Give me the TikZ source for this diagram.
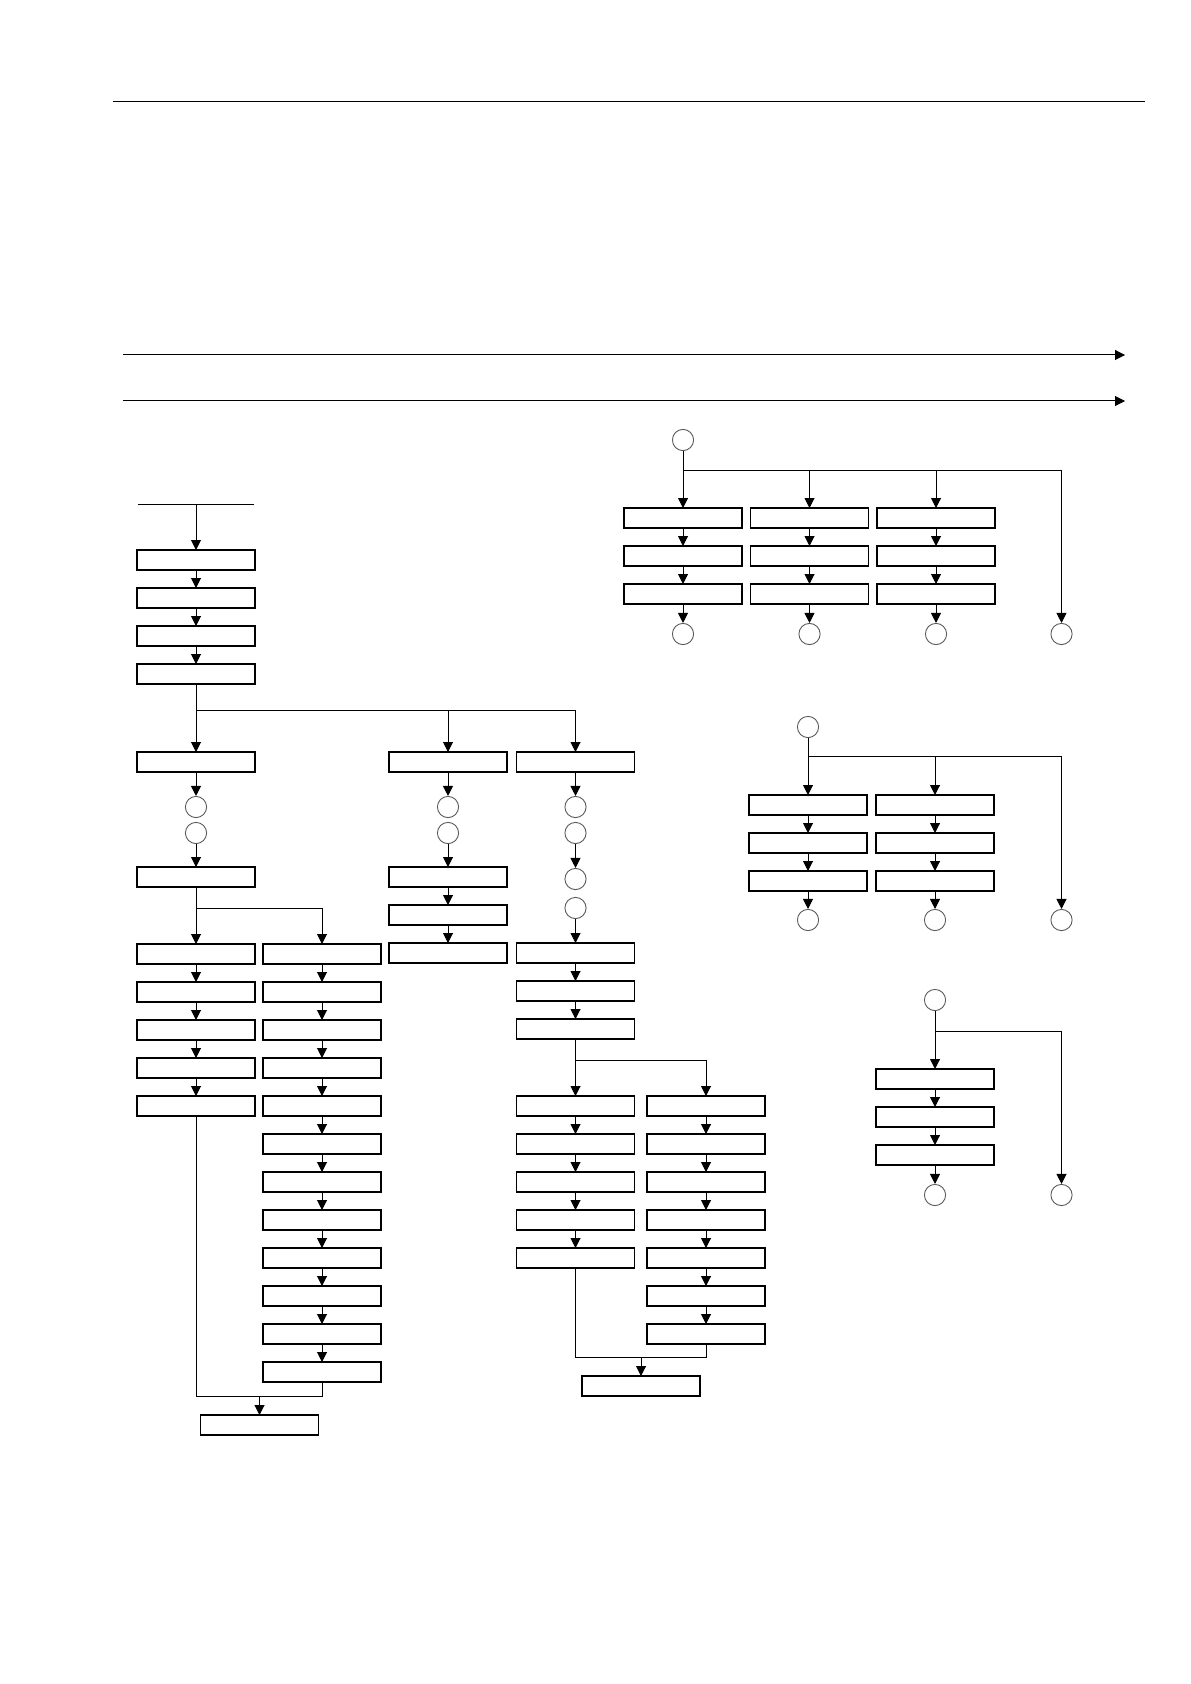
\documentclass[tikz,border=0pt]{standalone}
\usetikzlibrary{positioning,arrows.meta}
\tikzset{
  box/.style={draw, line width=0.55pt, minimum width=59pt, minimum height=10pt, inner sep=0pt, outer sep=0pt},
  dot/.style={circle, draw=black!65, line width=0.45pt, minimum size=10.6pt, inner sep=0pt},
  ln/.style={line width=0.5pt},
  fl/.style={ln, -{Triangle[length=5pt,width=5pt]}},
}
\begin{document}
\begin{tikzpicture}[x=0.5pt, y=-0.5pt, node distance=9pt]
\useasboundingbox (0,0) rectangle (1190,1684);
% page rule and the two time axes
\coordinate (rl) at (113,102); \coordinate (rr) at (1145,102);
\coordinate (t1a) at (123,355); \coordinate (t1b) at (1125,355);
\coordinate (t2a) at (123,401); \coordinate (t2b) at (1125,401);
\draw[ln] (rl) -- (rr);
\draw[fl] (t1a) -- (t1b);
\draw[fl] (t2a) -- (t2b);

% main tree
\coordinate (entL) at (138,504); \coordinate (entR) at (254,504); \coordinate (ent) at (196,504);
\node[box] (a1) at (196,560) {};
\node[box, below=of a1] (a2) {};
\node[box, below=of a2] (a3) {};
\node[box, below=of a3] (a4) {};
\node[box] (a5) at (196,762) {};
\node[dot] (a5x) at (196,807) {};
\node[dot] (a5y) at (196,833) {};
\node[box] (a6) at (196,877) {};
\node[box] (a7) at (196,954) {};
\node[box, below=of a7] (a8) {};
\node[box, below=of a8] (a9) {};
\node[box, below=of a9] (a10) {};
\node[box, below=of a10] (a11) {};
\node[box] (b1) at (322,954) {};
\node[box, below=of b1] (b2) {};
\node[box, below=of b2] (b3) {};
\node[box, below=of b3] (b4) {};
\node[box, below=of b4] (b5) {};
\node[box, below=of b5] (b6) {};
\node[box, below=of b6] (b7) {};
\node[box, below=of b7] (b8) {};
\node[box, below=of b8] (b9) {};
\node[box, below=of b9] (b10) {};
\node[box, below=of b10] (b11) {};
\node[box, below=of b11] (b12) {};
\node[box] (fa) at (259.5,1425) {};
\node[box] (c1) at (448,762) {};
\node[dot] (c1x) at (448,807) {};
\node[dot] (c1y) at (448,833) {};
\node[box] (c2) at (448,877) {};
\node[box, below=of c2] (c3) {};
\node[box, below=of c3] (c4) {};
\node[box] (d1) at (575.5,762) {};
\node[dot] (dx1) at (575.5,807) {};
\node[dot] (dx2) at (575.5,833) {};
\node[dot] (dx3) at (575.5,879) {};
\node[dot] (dx4) at (575.5,908) {};
\node[box] (d2) at (575.5,953) {};
\node[box, below=of d2] (d3) {};
\node[box, below=of d3] (d4) {};
\node[box] (d5) at (575.5,1106) {};
\node[box, below=of d5] (d6) {};
\node[box, below=of d6] (d7) {};
\node[box, below=of d7] (d8) {};
\node[box, below=of d8] (d9) {};
\node[box] (e1) at (706,1106) {};
\node[box, below=of e1] (e2) {};
\node[box, below=of e2] (e3) {};
\node[box, below=of e3] (e4) {};
\node[box, below=of e4] (e5) {};
\node[box, below=of e5] (e6) {};
\node[box, below=of e6] (e7) {};
\node[box] (fb) at (641,1386) {};

\coordinate (brM) at (196,710);
\coordinate (brA) at (196,908);
\coordinate (brD) at (575.5,1060);
\coordinate (mA) at (259.5,1396);
\coordinate (mB) at (641,1357);

\draw[ln] (entL) -- (entR); \draw[fl] (ent) -- (a1);
\draw[fl] (a1) -- (a2); \draw[fl] (a2) -- (a3); \draw[fl] (a3) -- (a4);
\draw[ln] (a4) -- (brM); \draw[fl] (brM) -- (a5);
\draw[fl] (brM) -| (c1); \draw[fl] (brM) -| (d1);
\draw[fl] (a5) -- (a5x); \draw[fl] (a5y) -- (a6);
\draw[ln] (a6) -- (brA); \draw[fl] (brA) -- (a7); \draw[fl] (brA) -| (b1);
\draw[fl] (a7) -- (a8); \draw[fl] (a8) -- (a9); \draw[fl] (a9) -- (a10); \draw[fl] (a10) -- (a11);
\draw[fl] (b1) -- (b2); \draw[fl] (b2) -- (b3); \draw[fl] (b3) -- (b4); \draw[fl] (b4) -- (b5);
\draw[fl] (b5) -- (b6); \draw[fl] (b6) -- (b7); \draw[fl] (b7) -- (b8); \draw[fl] (b8) -- (b9);
\draw[fl] (b9) -- (b10); \draw[fl] (b10) -- (b11); \draw[fl] (b11) -- (b12);
\draw[ln] (a11) |- (mA) -| (b12); \draw[fl] (mA) -- (fa);
\draw[fl] (c1) -- (c1x); \draw[fl] (c1y) -- (c2);
\draw[fl] (c2) -- (c3); \draw[fl] (c3) -- (c4);
\draw[fl] (d1) -- (dx1); \draw[fl] (dx2) -- (dx3); \draw[fl] (dx4) -- (d2);
\draw[fl] (d2) -- (d3); \draw[fl] (d3) -- (d4);
\draw[ln] (d4) -- (brD); \draw[fl] (brD) -- (d5); \draw[fl] (brD) -| (e1);
\draw[fl] (d5) -- (d6); \draw[fl] (d6) -- (d7); \draw[fl] (d7) -- (d8); \draw[fl] (d8) -- (d9);
\draw[fl] (e1) -- (e2); \draw[fl] (e2) -- (e3); \draw[fl] (e3) -- (e4);
\draw[fl] (e4) -- (e5); \draw[fl] (e5) -- (e6); \draw[fl] (e6) -- (e7);
\draw[ln] (d9) |- (mB) -| (e7); \draw[fl] (mB) -- (fb);

% right hand groups
\node[dot] (g1) at (683,440) {};
\node[box] (g1a1) at (683,518) {};
\node[box, below=of g1a1] (g1a2) {};
\node[box, below=of g1a2] (g1a3) {};
\node[dot] (g1ao) at (683,634) {};
\node[box] (g1b1) at (809.5,518) {};
\node[box, below=of g1b1] (g1b2) {};
\node[box, below=of g1b2] (g1b3) {};
\node[dot] (g1bo) at (809.5,634) {};
\node[box] (g1c1) at (936,518) {};
\node[box, below=of g1c1] (g1c2) {};
\node[box, below=of g1c2] (g1c3) {};
\node[dot] (g1co) at (936,634) {};
\node[dot] (g1do) at (1061.5,634) {};
\coordinate (g1br) at (683,470);
\draw[ln] (g1) -- (g1br); \draw[fl] (g1br) -- (g1a1);
\draw[fl] (g1br) -| (g1b1); \draw[fl] (g1br) -| (g1c1); \draw[fl] (g1br) -| (g1do);
\draw[fl] (g1a1) -- (g1a2); \draw[fl] (g1a2) -- (g1a3); \draw[fl] (g1a3) -- (g1ao);
\draw[fl] (g1b1) -- (g1b2); \draw[fl] (g1b2) -- (g1b3); \draw[fl] (g1b3) -- (g1bo);
\draw[fl] (g1c1) -- (g1c2); \draw[fl] (g1c2) -- (g1c3); \draw[fl] (g1c3) -- (g1co);

\node[dot] (g2) at (808,727) {};
\node[box] (g2a1) at (808,805) {};
\node[box, below=of g2a1] (g2a2) {};
\node[box, below=of g2a2] (g2a3) {};
\node[dot] (g2ao) at (808,920) {};
\node[box] (g2b1) at (935,805) {};
\node[box, below=of g2b1] (g2b2) {};
\node[box, below=of g2b2] (g2b3) {};
\node[dot] (g2bo) at (935,920) {};
\node[dot] (g2co) at (1061.5,920) {};
\coordinate (g2br) at (808,756);
\draw[ln] (g2) -- (g2br); \draw[fl] (g2br) -- (g2a1);
\draw[fl] (g2br) -| (g2b1); \draw[fl] (g2br) -| (g2co);
\draw[fl] (g2a1) -- (g2a2); \draw[fl] (g2a2) -- (g2a3); \draw[fl] (g2a3) -- (g2ao);
\draw[fl] (g2b1) -- (g2b2); \draw[fl] (g2b2) -- (g2b3); \draw[fl] (g2b3) -- (g2bo);

\node[dot] (g3) at (935,1000) {};
\node[box] (g3a1) at (935,1079) {};
\node[box, below=of g3a1] (g3a2) {};
\node[box, below=of g3a2] (g3a3) {};
\node[dot] (g3ao) at (935,1195) {};
\node[dot] (g3bo) at (1061.5,1195) {};
\coordinate (g3br) at (935,1031);
\draw[ln] (g3) -- (g3br); \draw[fl] (g3br) -- (g3a1); \draw[fl] (g3br) -| (g3bo);
\draw[fl] (g3a1) -- (g3a2); \draw[fl] (g3a2) -- (g3a3); \draw[fl] (g3a3) -- (g3ao);
\end{tikzpicture}
\end{document}
